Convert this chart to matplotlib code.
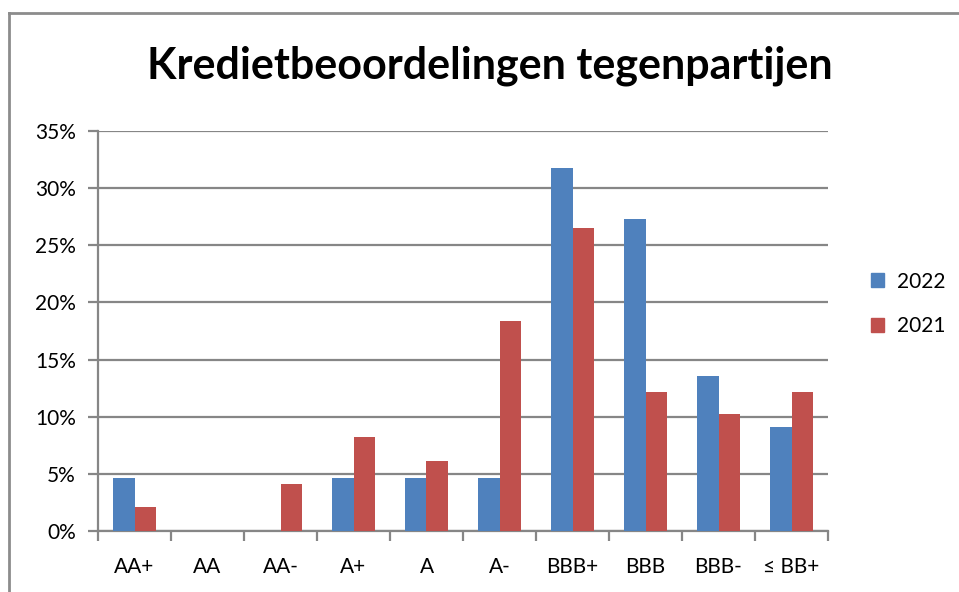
import matplotlib
matplotlib.use("Agg")
import matplotlib.pyplot as plt
import numpy as np
from matplotlib.patches import Rectangle
from matplotlib.lines import Line2D

categories = ["AA+", "AA", "AA-", "A+", "A", "A-", "BBB+", "BBB", "BBB-", "≤ BB+"]
values_2022 = [4.6, 0, 0, 4.6, 4.6, 4.6, 31.8, 27.3, 13.6, 9.1]
values_2021 = [2.1, 0, 4.1, 8.2, 6.1, 18.4, 26.5, 12.2, 10.2, 12.2]
series_labels = ["2022", "2021"]
yticks = [0, 5, 10, 15, 20, 25, 30, 35]

plt.rcParams['font.family'] = ['Lato', 'DejaVu Sans']

W, H = 959, 592
fig = plt.figure(figsize=(W / 100, H / 100), dpi=100)

# outer chart frame
fig.add_artist(Line2D([9 / W, 9 / W], [0, 1 - 13 / H], transform=fig.transFigure,
                      color="#8c8c8c", lw=2))
fig.add_artist(Line2D([9 / W, 1.0], [1 - 13 / H, 1 - 13 / H], transform=fig.transFigure,
                      color="#8c8c8c", lw=2))

ax = fig.add_axes([98 / W, (H - 531) / H, 730 / W, 400 / H])

x = np.arange(len(categories))
bw = 0.29
blue = "#4F81BD"
red = "#C0504D"
ax.bar(x - bw / 2, values_2022, bw, color=blue, label=series_labels[0], zorder=3)
ax.bar(x + bw / 2, values_2021, bw, color=red, label=series_labels[1], zorder=3)

ax.set_xlim(-0.5, len(categories) - 0.5)
ax.set_ylim(0, 35)
ax.set_yticks(yticks)
ax.set_yticklabels([f"{t}%" for t in yticks])
ax.yaxis.grid(True, color="#868686", lw=1.6, zorder=0)
ax.set_axisbelow(True)

ax.set_xticks(x)
ax.set_xticklabels(categories)
ax.set_xticks(np.arange(-0.5, len(categories)), minor=True)
ax.tick_params(axis="x", which="major", length=0, pad=19, labelsize=15, colors="#000000")
ax.tick_params(axis="x", which="minor", length=7, width=1.6, color="#868686")
ax.tick_params(axis="y", length=7, width=1.6, color="#868686", labelsize=15, pad=9)

for s in ["top", "right"]:
    ax.spines[s].set_visible(False)
for s in ["left", "bottom"]:
    ax.spines[s].set_color("#868686")
    ax.spines[s].set_linewidth(1.6)

fig.text(490 / W, 1 - 66 / H, "Kredietbeoordelingen tegenpartijen", ha="center", va="center",
         fontsize=31, fontweight="bold")

handles = [Rectangle((0, 0), 1, 1, color=blue), Rectangle((0, 0), 1, 1, color=red)]
fig.legend(handles, series_labels, loc="center left", bbox_to_anchor=(852 / W, 1 - 304 / H),
           frameon=False, fontsize=15, handlelength=0.65, handleheight=0.65,
           handletextpad=0.6, labelspacing=1.2)

fig.savefig("out.png", dpi=100)
